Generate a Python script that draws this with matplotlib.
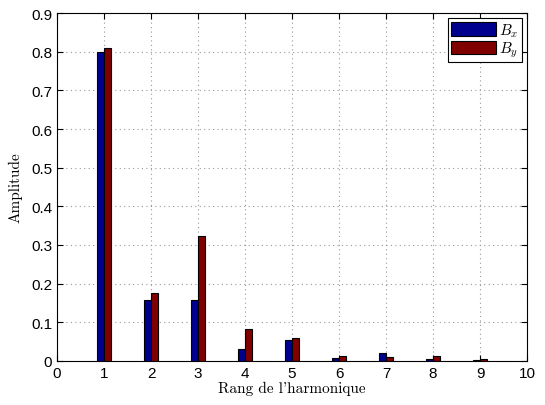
import numpy as np
import matplotlib
matplotlib.use("Agg")
import matplotlib.pyplot as plt

rang = [1, 2, 3, 4, 5, 6, 7, 8, 9]
bx = [0.800, 0.158, 0.158, 0.031, 0.053, 0.007, 0.021, 0.005, 0.002]
by = [0.810, 0.177, 0.322, 0.083, 0.060, 0.013, 0.010, 0.012, 0.005]

plt.rcParams['mathtext.fontset'] = 'cm'
plt.rcParams['font.family'] = ['Liberation Sans', 'DejaVu Sans']

fig = plt.figure(figsize=(5.45, 4.06), dpi=100)
ax = fig.add_axes([0.1046, 0.1084, 0.8624, 0.8571])

x = np.array(rang)
w = 0.14
ax.bar(x - w/2, bx, width=w, color='#00008F', edgecolor='black', linewidth=0.8, label='$B_x$', zorder=3)
ax.bar(x + w/2, by, width=w, color='#800000', edgecolor='black', linewidth=0.8, label='$B_y$', zorder=3)

ax.set_xlim(0, 10)
ax.set_ylim(0, 0.9)
ax.set_xticks(range(0, 11))
ax.set_yticks(np.arange(0, 0.91, 0.1))
ax.set_yticklabels(['0', '0.1', '0.2', '0.3', '0.4', '0.5', '0.6', '0.7', '0.8', '0.9'])
ax.tick_params(direction='in', top=True, right=True, labelsize=11, length=4)
ax.grid(True, linestyle=(0, (1, 3)), color='#999999', linewidth=0.8, zorder=0)
for s in ax.spines.values():
    s.set_linewidth(0.8)

ax.set_xlabel("Rang de l'harmonique", family='cmr10', fontsize=11, labelpad=1)
ax.set_ylabel("Amplitude", family='cmr10', fontsize=11, labelpad=6)

leg = ax.legend(loc='upper right', fancybox=False, edgecolor='black', framealpha=1,
                fontsize=11, handlelength=2.9, handleheight=1.0, borderaxespad=0.35,
                handletextpad=0.25, labelspacing=0.05, borderpad=0.2)
leg.get_frame().set_linewidth(0.8)

fig.savefig("out.png", dpi=100)
